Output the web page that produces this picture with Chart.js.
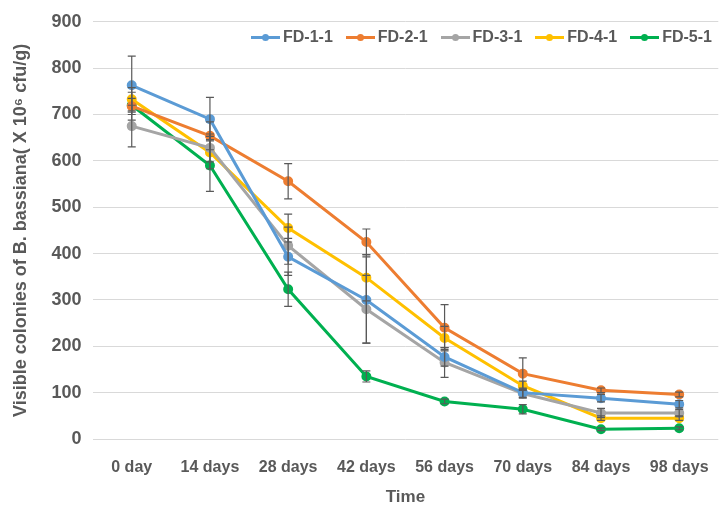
<!DOCTYPE html>
<html>
<head>
<meta charset="utf-8">
<script src="https://cdn.jsdelivr.net/npm/chart.js@4/dist/chart.umd.min.js"></script>
<style>
    html, body { margin: 0; padding: 0; background: #fff; }
    #wrap { position: relative; width: 728px; height: 510px; }
    #legend { position: absolute; top: 27px; left: 251px; display: flex; gap: 13px; white-space: nowrap;
        font: bold 16px "Liberation Sans", Arial, sans-serif; color: #595959; line-height: 20px; }
    #legend span { display: flex; align-items: center; }
    #legend i { display: inline-block; width: 29px; height: 3px; margin-right: 3px; position: relative; }
    #legend i::after { content: ''; position: absolute; left: 11px; top: -2px; width: 7px; height: 7px;
        border-radius: 50%; background: inherit; }
</style>
</head>
<body>
<div id="wrap">
    <canvas id="chart" width="728" height="510"></canvas>
    <div id="legend"></div>
</div>
<script>
const categories = ['0 day', '14 days', '28 days', '42 days', '56 days', '70 days', '84 days', '98 days'];
const seriesNames = ['FD-1-1', 'FD-2-1', 'FD-3-1', 'FD-4-1', 'FD-5-1'];
const fd11 = [763, 690, 393, 300, 177, 100, 88, 75];
const fd21 = [718, 654, 556, 425, 240, 141, 105, 96];
const fd31 = [675, 628, 417, 280, 165, 98, 56, 56];
const fd41 = [733, 618, 455, 348, 218, 115, 45, 45];
const fd51 = [720, 590, 323, 135, 81, 64, 21, 23];
const err11 = [63, 47, 40, 93, 20, 10, 8, 8];
const err21 = [30, 30, 38, 28, 50, 34, 5, 5];
const err31 = [45, 30, 40, 73, 32, 10, 10, 8];
const err41 = [25, 35, 30, 50, 25, 10, 5, 5];
const err51 = [15, 56, 37, 12, 5, 10, 3, 3];
const yTicks = [0, 100, 200, 300, 400, 500, 600, 700, 800, 900];
const colors = ['#5B9BD5', '#ED7D31', '#A5A5A5', '#FFC000', '#00B050'];

const values = [fd11, fd21, fd31, fd41, fd51];
const errors = [err11, err21, err31, err41, err51];
const textColor = '#595959';
const family = '"Liberation Sans", Arial, sans-serif';

// error bars drawn through the scales
const errorBars = {
    id: 'errorBars',
    afterDatasetsDraw(chart) {
        const ctx = chart.ctx;
        const y = chart.scales.y;
        ctx.save();
        ctx.strokeStyle = '#595959';
        ctx.lineWidth = 1.2;
        chart.data.datasets.forEach((ds, i) => {
            chart.getDatasetMeta(i).data.forEach((pt, j) => {
                const e = ds.errors[j];
                const top = y.getPixelForValue(ds.data[j] + e);
                const bot = y.getPixelForValue(ds.data[j] - e);
                ctx.beginPath();
                ctx.moveTo(pt.x, top); ctx.lineTo(pt.x, bot);
                ctx.moveTo(pt.x - 4, top); ctx.lineTo(pt.x + 4, top);
                ctx.moveTo(pt.x - 4, bot); ctx.lineTo(pt.x + 4, bot);
                ctx.stroke();
            });
        });
        ctx.restore();
    }
};

const datasets = seriesNames.map((name, i) => ({
    label: name,
    data: values[i],
    errors: errors[i],
    borderColor: colors[i],
    backgroundColor: colors[i],
    borderWidth: 3,
    pointRadius: 3.5,
    pointStyle: 'circle',
    tension: 0
}));

new Chart(document.getElementById('chart'), {
    type: 'line',
    data: { labels: categories, datasets: datasets },
    options: {
        responsive: false,
        animation: false,
        layout: { padding: { top: 2, right: 0, left: 10, bottom: 0 } },
        plugins: { legend: { display: false }, tooltip: { enabled: false } },
        scales: {
            x: {
                offset: true,
                afterFit: scale => { scale.height = 71; },
                grid: { display: false, drawTicks: false },
                border: { display: false },
                ticks: { color: textColor, font: { family: family, size: 16, weight: 'bold' }, padding: 19, maxRotation: 0 },
                title: { display: true, text: 'Time', color: textColor, font: { family: family, size: 17, weight: 'bold' }, padding: { top: 4, bottom: 2 } }
            },
            y: {
                min: 0,
                max: 900,
                afterBuildTicks: axis => { axis.ticks = yTicks.map(v => ({ value: v })); },
                grid: { color: '#D9D9D9', drawTicks: false },
                border: { display: false },
                ticks: { color: textColor, font: { family: family, size: 18, weight: 'bold' }, padding: 11 },
                title: { display: true, text: 'Visible colonies of B. bassiana( X 10\u2076 cfu/g)', color: textColor, font: { family: family, size: 18, weight: 'bold' }, padding: { top: 0, bottom: 9 } }
            }
        }
    },
    plugins: [errorBars]
});

const legend = document.getElementById('legend');
seriesNames.forEach((name, i) => {
    const item = document.createElement('span');
    item.innerHTML = '<i style="background:' + colors[i] + '"></i>' + name;
    legend.appendChild(item);
});
</script>
</body>
</html>
